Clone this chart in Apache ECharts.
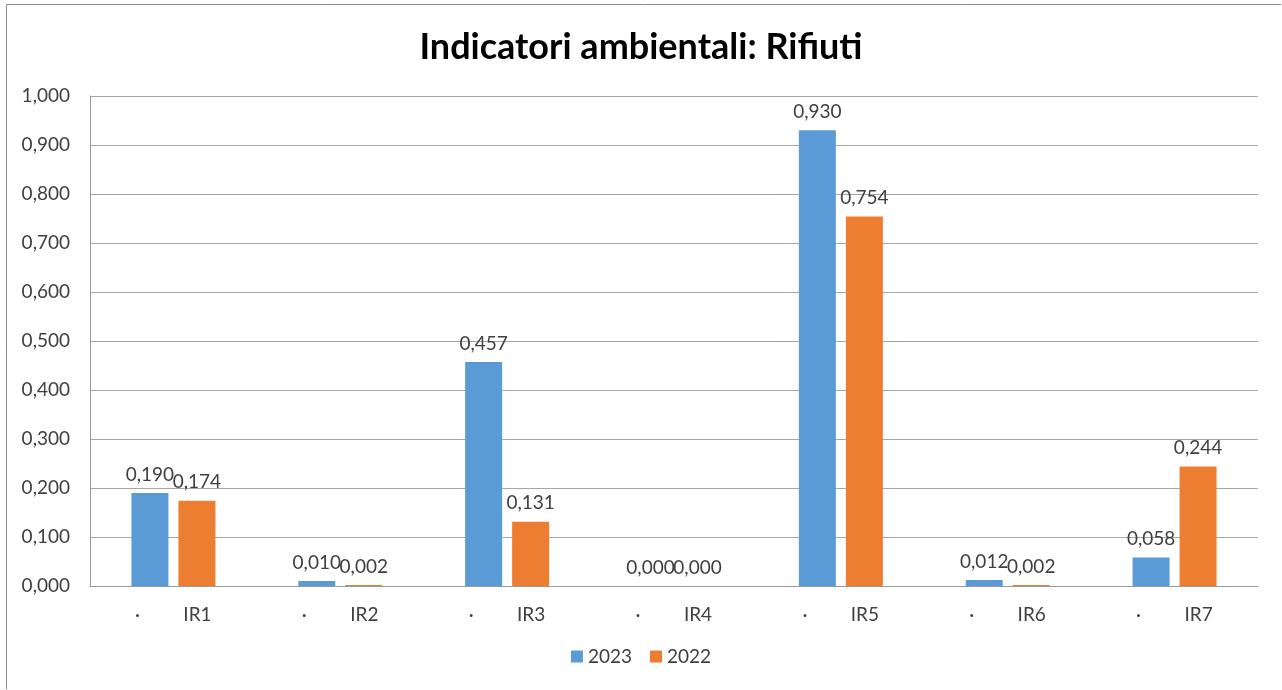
<!DOCTYPE html>
<html>
<head>
<meta charset="utf-8">
<script src="https://cdn.jsdelivr.net/npm/echarts@6/dist/echarts.min.js"></script>
<style>
  html, body { margin: 0; padding: 0; background: #fff; }
  #chart { width: 1282px; height: 690px; }
</style>
</head>
<body>
<div id="chart"></div>
<script>
// dati
const categories = ['IR1', 'IR2', 'IR3', 'IR4', 'IR5', 'IR6', 'IR7'];
const values2023 = [0.190, 0.010, 0.457, 0.000, 0.930, 0.012, 0.058];
const values2022 = [0.174, 0.002, 0.131, 0.000, 0.754, 0.002, 0.244];
const yTicks = [0, 0.1, 0.2, 0.3, 0.4, 0.5, 0.6, 0.7, 0.8, 0.9, 1.0];

const fmt = v => v.toFixed(3).replace('.', ',');
const font = 'Lato, "Open Sans", sans-serif';

const chart = echarts.init(document.getElementById('chart'));
chart.setOption({
    animation: false,
    textStyle: { fontFamily: font },
    title: {
        text: 'Indicatori ambientali: Rifiuti',
        left: 'center',
        top: 24,
        textStyle: { fontSize: 36, fontWeight: 'bold', color: '#000', fontFamily: font }
    },
    graphic: [{
        type: 'polyline',
        shape: { points: [[6.5, 689], [6.5, 4.5], [1281, 4.5]] },
        style: { stroke: '#8a8a8a', lineWidth: 1, fill: null }
    }],
    legend: {
        bottom: 19,
        left: 'center',
        itemWidth: 12,
        itemHeight: 12,
        itemGap: 18,
        itemTextGap: 6,
        icon: 'rect',
        textStyle: { fontSize: 19, color: '#404040' },
        data: ['2023', '2022']
    },
    grid: { left: 90, right: 24, top: 96, bottom: 104 },
    xAxis: {
        type: 'category',
        data: categories,
        axisLine: { lineStyle: { color: '#9a9a9a' } },
        axisTick: { show: false },
        axisLabel: {
            margin: 19,
            formatter: v => '{a|·}{b|' + v + '}',
            rich: {
                a: { width: 48, align: 'center', fontSize: 19, color: '#404040' },
                b: { width: 72, align: 'center', fontSize: 19, color: '#404040' }
            }
        }
    },
    yAxis: {
        type: 'value',
        min: yTicks[0],
        max: yTicks[yTicks.length - 1],
        interval: 0.1,
        axisLine: { show: true, lineStyle: { color: '#9a9a9a' } },
        axisTick: { show: false },
        splitLine: { lineStyle: { color: '#a6a6a6' } },
        axisLabel: { fontSize: 19, color: '#404040', margin: 20, formatter: fmt }
    },
    series: [
        {
            name: '2023',
            type: 'bar',
            data: values2023,
            barWidth: 37,
            barGap: '27%',
            itemStyle: { color: '#5b9bd5' },
            label: { show: true, position: 'top', distance: 9, fontSize: 19, color: '#404040', formatter: p => fmt(p.value) }
        },
        {
            name: '2022',
            type: 'bar',
            data: values2022,
            barWidth: 37,
            itemStyle: { color: '#ed7d31' },
            label: { show: true, position: 'top', distance: 9, fontSize: 19, color: '#404040', formatter: p => fmt(p.value) }
        }
    ]
});
</script>
</body>
</html>
